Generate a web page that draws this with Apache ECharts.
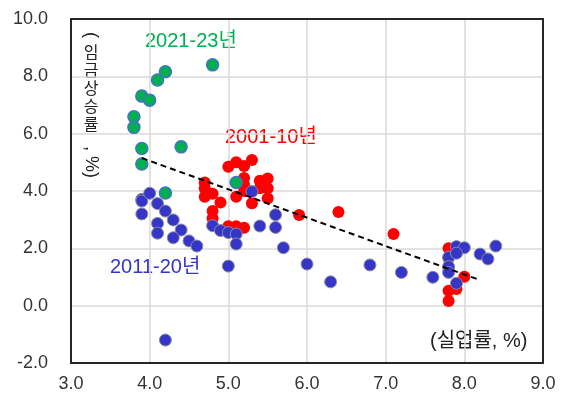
<!DOCTYPE html>
<html>
<head>
<meta charset="utf-8">
<script src="https://cdn.jsdelivr.net/npm/echarts@6/dist/echarts.min.js"></script>
<style>
  html, body { margin: 0; padding: 0; background: #fff; }
  #chart { width: 563px; height: 402px; }
</style>
</head>
<body>
<div id="chart"></div>
<script>
// Unemployment rate (x, %) vs. wage growth (y, %), quarterly
const xTicks = [3.0, 4.0, 5.0, 6.0, 7.0, 8.0, 9.0];
const yTicks = [-2.0, 0.0, 2.0, 4.0, 6.0, 8.0, 10.0];

const s2001_10 = [
  [4.7, 4.3], [4.7, 4.1], [4.7, 3.8], [4.8, 3.9], [4.9, 3.6], [4.8, 3.3], [4.8, 3.05],
  [5.0, 4.85], [5.1, 5.0], [5.2, 4.87], [5.3, 5.08],
  [5.2, 4.45], [5.2, 4.22], [5.2, 4.0], [5.1, 3.8], [5.3, 3.57],
  [5.4, 4.36], [5.5, 4.44], [5.5, 4.1], [5.4, 4.1], [5.5, 3.75],
  [5.0, 2.77], [5.1, 2.77], [5.2, 2.72],
  [5.9, 3.16], [6.4, 3.27], [7.1, 2.5],
  [7.8, 2.0], [7.8, 1.65], [7.8, 1.3], [8.0, 1.01], [7.8, 0.52], [7.9, 0.58], [7.8, 0.16]
];

const s2011_20 = [
  [3.9, 3.71], [3.9, 3.65], [4.0, 3.92], [3.9, 3.2], [4.1, 3.56], [4.2, 3.3],
  [4.1, 2.87], [4.1, 2.53], [4.3, 2.99], [4.4, 2.64], [4.3, 2.37], [4.5, 2.26],
  [4.6, 2.08], [4.8, 2.79], [4.9, 2.62], [5.0, 2.55], [5.1, 2.5], [5.1, 2.15],
  [5.3, 3.98], [5.4, 2.78], [5.6, 3.17], [5.6, 2.73], [5.7, 2.02],
  [5.0, 1.38], [4.2, -1.2],
  [6.0, 1.45], [6.3, 0.83], [6.8, 1.42], [7.2, 1.16], [7.6, 0.99],
  [7.9, 2.06], [8.0, 2.02], [7.8, 1.69], [7.9, 1.83], [7.8, 1.36], [7.8, 1.16],
  [7.9, 0.78], [8.2, 1.8], [8.3, 1.63], [8.4, 2.08]
];

const s2021_23 = [
  [4.8, 8.4], [4.2, 8.16], [4.1, 7.87], [3.9, 7.31], [4.0, 7.17], [3.8, 6.59],
  [3.8, 6.22], [3.9, 5.48], [4.4, 5.54], [3.9, 4.94], [4.2, 3.93], [5.1, 4.3]
];

// Linear fit drawn across the observed unemployment range
const trendLine = [[3.9, 5.15], [8.2, 0.89]];

const chart = echarts.init(document.getElementById('chart'), null, { renderer: 'canvas' });

const axisFont = { fontFamily: 'Liberation Sans', fontSize: 18, color: '#333' };
const gridLine = { show: true, lineStyle: { color: '#d9d9d9', width: 1.5 } };
const frameLine = { show: true, onZero: false, lineStyle: { color: '#262626', width: 2 } };

const xBase = {
  type: 'value',
  min: xTicks[0], max: xTicks[xTicks.length - 1], interval: 1,
  axisTick: { show: false }
};
const yBase = {
  type: 'value',
  min: yTicks[0], max: yTicks[yTicks.length - 1], interval: 2,
  axisTick: { show: false }
};

chart.setOption({
  animation: false,
  backgroundColor: '#fff',
  grid: { left: 71, right: 20, top: 19, bottom: 39 },
  xAxis: [
    Object.assign({}, xBase, {
      position: 'bottom', axisLine: frameLine, splitLine: gridLine,
      axisLabel: Object.assign({ margin: 12, formatter: v => v.toFixed(1) }, axisFont)
    }),
    Object.assign({}, xBase, {
      position: 'top', axisLine: frameLine, splitLine: { show: false }, axisLabel: { show: false }
    })
  ],
  yAxis: [
    Object.assign({}, yBase, {
      position: 'left', axisLine: frameLine, splitLine: gridLine,
      axisLabel: Object.assign({ margin: 23, formatter: v => v.toFixed(1) }, axisFont)
    }),
    Object.assign({}, yBase, {
      position: 'right', axisLine: frameLine, splitLine: { show: false }, axisLabel: { show: false }
    })
  ],
  series: [
    {
      name: '2001-10년', type: 'scatter', data: s2001_10, symbolSize: 12,
      itemStyle: { color: '#ff0000', opacity: 1 }, z: 2
    },
    {
      name: '2011-20년', type: 'scatter', data: s2011_20, symbolSize: 12,
      itemStyle: { color: '#3535c8', borderColor: '#8c8ca0', borderWidth: 1, opacity: 1 }, z: 3
    },
    {
      name: '2021-23년', type: 'scatter', data: s2021_23, symbolSize: 12,
      itemStyle: { color: '#00b050', borderColor: '#4472c4', borderWidth: 1.5, opacity: 1 }, z: 4
    },
    {
      name: 'trend', type: 'line', data: trendLine, symbol: 'none', z: 5,
      lineStyle: { color: '#000', width: 2, type: [6, 4] }
    }
  ],
  graphic: [
    { type: 'text', left: 145, top: 31, style: { text: '2021-23년', fill: '#00b050', font: '20px "Liberation Sans", "Noto Sans CJK KR"' } },
    { type: 'text', left: 225, top: 127, style: { text: '2001-10년', fill: '#ff0000', font: '20px "Liberation Sans", "Noto Sans CJK KR"' } },
    { type: 'text', left: 110, top: 257, style: { text: '2011-20년', fill: '#3535c8', font: '20px "Liberation Sans", "Noto Sans CJK KR"' } },
    { type: 'text', left: 430, top: 331, style: { text: '(실업률, %)', fill: '#222', font: '20px "Liberation Sans", "Noto Sans CJK KR"' } },
    // vertical y-axis title: rotated bracket, upright hangul, rotated tail
    { type: 'text', x: 91, y: 35, rotation: -Math.PI / 2, style: { text: '(', fill: '#222', font: '18px "Liberation Sans"', align: 'center', verticalAlign: 'middle' } },
    { type: 'text', x: 91, y: 43, style: { text: '임\n금\n상\n승\n률', fill: '#222', font: '16px "Noto Sans CJK KR"', lineHeight: 18, align: 'center', verticalAlign: 'top' } },
    { type: 'text', x: 91, y: 162, rotation: -Math.PI / 2, style: { text: ', %)', fill: '#222', font: '18px "Liberation Sans"', align: 'center', verticalAlign: 'middle' } }
  ]
});
</script>
</body>
</html>
